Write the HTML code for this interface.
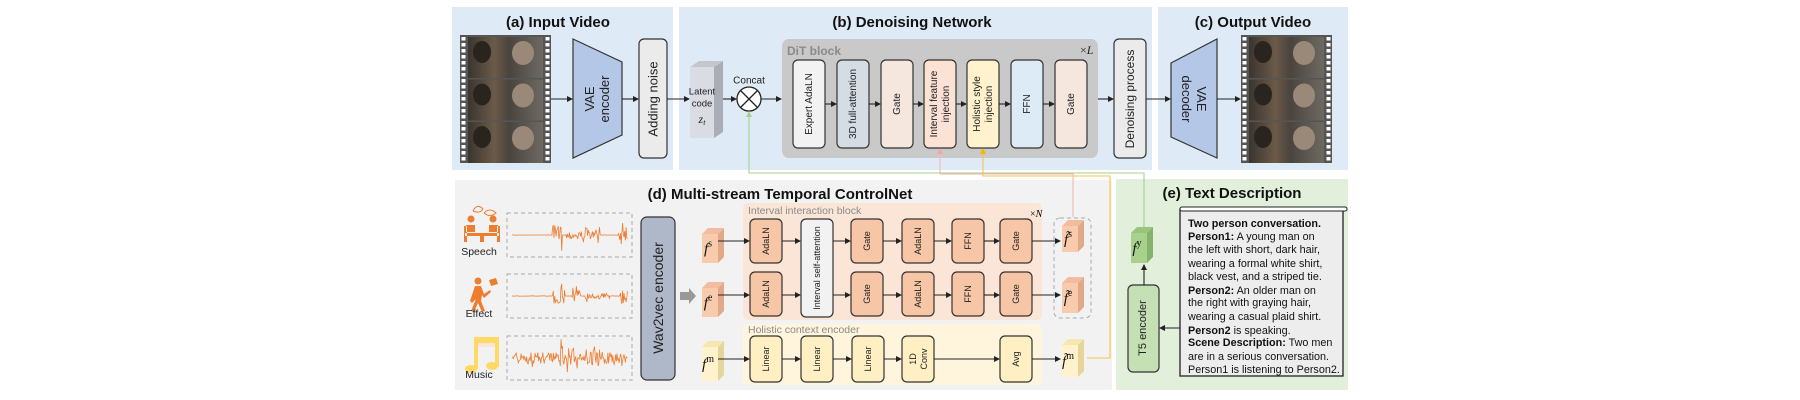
<!DOCTYPE html>
<html><head><meta charset="utf-8"><style>
html,body{margin:0;padding:0;background:#fff;width:1800px;height:400px;overflow:hidden}
svg{display:block;font-family:"Liberation Sans",Arial,sans-serif}
.t{font-weight:bold;font-size:15px;fill:#111;text-anchor:middle}
.bx{stroke:#333;stroke-width:1.2}
.lb{font-size:10px;fill:#222;text-anchor:middle;dominant-baseline:central}
.ln{stroke:#222;stroke-width:1.1;fill:none}
.tx{font-size:10.8px;fill:#111}
</style></head><body>
<svg id="s" width="1800" height="400" viewBox="0 0 1800 400">
<defs>
<marker id="ah" markerWidth="6" markerHeight="6" refX="5" refY="3" orient="auto" markerUnits="userSpaceOnUse"><path d="M0,0 L6,3 L0,6 z" fill="#222"/></marker>
<linearGradient id="fr" x1="0" x2="1" y1="0" y2="0"><stop offset="0" stop-color="#3b352f"/><stop offset="0.35" stop-color="#6b5a48"/><stop offset="0.55" stop-color="#4a443e"/><stop offset="1" stop-color="#6e6a62"/></linearGradient>
</defs>
<rect x="452" y="7" width="221" height="163" fill="#deeaf6"/>
<rect x="679" y="7" width="473" height="163" fill="#deeaf6"/>
<rect x="1158" y="7" width="190" height="163" fill="#deeaf6"/>
<rect x="455" y="180" width="657" height="210" fill="#f2f2f2"/>
<rect x="1116" y="179" width="232" height="211" fill="#e2efda"/>
<text class="t" x="558" y="27">(a) Input Video</text>
<text class="t" x="912" y="27">(b) Denoising Network</text>
<text class="t" x="1253" y="27">(c) Output Video</text>
<text class="t" x="780" y="199">(d) Multi-stream Temporal ControlNet</text>
<text class="t" x="1232" y="198">(e) Text Description</text>
<g id="films"></g>
<polygon points="573,39 622,62 622,135 573,158" fill="#b4c7e7" class="bx"/>
<text class="lb" style="font-size:13px" transform="translate(597,99) rotate(-90)"><tspan x="0" dy="-8">VAE</tspan><tspan x="0" dy="15">encoder</tspan></text>
<rect x="639" y="39" width="28" height="119" rx="5" fill="#ebebeb" class="bx"/>
<text class="lb" style="font-size:13px" transform="translate(653,99) rotate(-90)">Adding noise</text>
<line class="ln" x1="551" y1="99" x2="572" y2="99" marker-end="url(#ah)"/>
<line class="ln" x1="622" y1="99" x2="638" y2="99" marker-end="url(#ah)"/>
<line class="ln" x1="667" y1="99" x2="689" y2="99" marker-end="url(#ah)"/>
<polygon points="714,67 723,61 723,132 714,138" fill="#a9adb5"/>
<polygon points="690,67 699,61 723,61 714,67" fill="#c3c6cc"/>
<rect x="690" y="67" width="24" height="71" fill="#d9dce3"/>
<text class="lb" x="702" y="92" style="font-size:9.5px">Latent</text>
<text class="lb" x="702" y="104" style="font-size:9.5px">code</text>
<text class="lb" x="702" y="119" style="font-size:12px;font-family:'Liberation Serif',serif;font-style:italic">z<tspan style="font-size:8px" dy="3">t</tspan></text>
<line class="ln" x1="723" y1="99" x2="736" y2="99" marker-end="url(#ah)"/>
<circle cx="749" cy="99" r="12" fill="#fff" stroke="#222" stroke-width="1.3"/>
<path d="M741,91 L757,107 M757,91 L741,107" stroke="#222" stroke-width="1.3"/>
<text class="lb" x="749" y="81" style="font-size:10px">Concat</text>
<line class="ln" x1="761" y1="99" x2="781" y2="99" marker-end="url(#ah)"/>
<rect x="782" y="39" width="316" height="119" rx="7" fill="#c9c9c9"/>
<text x="787" y="55" style="font-size:12px;font-weight:bold;fill:#8a8a8a">DiT block</text>
<text x="1080" y="54" style="font-size:12px;font-family:'Liberation Serif',serif;fill:#222">×<tspan font-style="italic">L</tspan></text>
<g id="dit"></g>
<line class="ln" x1="1098" y1="99" x2="1113" y2="99" marker-end="url(#ah)"/>
<rect x="1114" y="39" width="32" height="119" rx="5" fill="#ebebeb" class="bx"/>
<text class="lb" style="font-size:12px" transform="translate(1130,99) rotate(-90)">Denoising process</text>
<line class="ln" x1="1146" y1="99" x2="1170" y2="99" marker-end="url(#ah)"/>
<polygon points="1171,63 1217,39 1217,158 1171,137" fill="#b4c7e7" class="bx"/>
<text class="lb" style="font-size:13px" transform="translate(1194,99) rotate(90)"><tspan x="0" dy="-8">VAE</tspan><tspan x="0" dy="15">decoder</tspan></text>
<line class="ln" x1="1217" y1="99" x2="1240" y2="99" marker-end="url(#ah)"/>
<polyline points="1144,227 1144,173 749,173 749,112" fill="none" stroke="#a9d18e" stroke-width="1.1"/>
<path d="M746,117 L749,111 L752,117z" fill="#a9d18e"/>
<polyline points="1073,217 1073,174 940,174 940,149" fill="none" stroke="#f4b6b6" stroke-width="1.1"/>
<path d="M937,154 L940,148 L943,154z" fill="#f4a6a6"/>
<polyline points="1087,358 1110,358 1110,176 983,176 983,149" fill="none" stroke="#f7c250" stroke-width="1.1"/>
<path d="M980,154 L983,148 L986,154z" fill="#f4b400"/>
<g fill="#ed7d31">
<circle cx="471" cy="219" r="3.5"/><circle cx="493" cy="219" r="3.5"/>
<path d="M466,225 h9 v7 h-9z M489,225 h9 v7 h-9z M465,233 h34 v3 h-34z M480,236 h4 v6 h-4z M464,226 v16 h3 v-16z M497,226 v16 h3 v-16z"/>
<circle cx="478" cy="281" r="3.5"/>
<path d="M475,286 l6,0 l3,8 l6,-4 l1,2 l-7,6 l-2,-3 l-1,6 l4,10 l-3,1 l-4,-9 l-4,9 l-3,-1 l5,-12 l-4,4 l-2,-2z M489,280 l7,-2 l2,6 l-7,2z"/>
</g>
<path d="M473,211 q4,-8 10,-2 q-3,5 -10,2 M484,213 q6,-6 12,0 q-6,5 -12,0" fill="none" stroke="#ed7d31" stroke-width="1"/>
<g fill="#ffd966"><rect x="477" y="340" width="20" height="7" fill="#fbe5d6"/>
<path d="M474,337 h25 v30 h-4 v-24 h-17 v26 h-4z"/><ellipse cx="471" cy="369" rx="6" ry="4"/><ellipse cx="492" cy="366" rx="6" ry="4"/></g>
<text class="lb" x="479" y="252" style="font-size:10.5px">Speech</text>
<text class="lb" x="479" y="314" style="font-size:10.5px">Effect</text>
<text class="lb" x="479" y="375" style="font-size:10.5px">Music</text>
<g fill="none" stroke="#aaa" stroke-dasharray="4,3">
<rect x="507" y="213" width="125" height="44"/><rect x="507" y="274" width="125" height="44"/><rect x="507" y="336" width="125" height="44"/></g>
<g id="waves"></g>
<rect x="641" y="217" width="34" height="163" rx="6" fill="#aeb8c8" class="bx"/>
<text class="lb" style="font-size:14px" transform="translate(658,298) rotate(-90)">Wav2vec encoder</text>
<polygon points="680,292 689,292 689,288 696,296 689,304 689,300 680,300" fill="#999"/>
<rect x="743" y="203" width="299" height="117" rx="5" fill="#fbe5d6"/>
<text x="748" y="214" style="font-size:10.5px;fill:#8a8a8a">Interval interaction block</text>
<text x="1030" y="217" style="font-size:10px;font-family:'Liberation Serif',serif">×<tspan font-style="italic">N</tspan></text>
<rect x="743" y="324" width="299" height="61" rx="5" fill="#fff5dc"/>
<text x="748" y="333" style="font-size:10.5px;fill:#8a8a8a">Holistic context encoder</text>
<g id="d"></g>
<rect x="1054" y="218" width="37" height="100" rx="6" fill="none" stroke="#aaa" stroke-dasharray="4,3"/>
<rect x="1128" y="285" width="31" height="87" rx="5" fill="#c5e0b4" class="bx"/>
<text class="lb" style="font-size:11px" transform="translate(1143,328) rotate(-90)">T5 encoder</text>
<line class="ln" x1="1144" y1="285" x2="1144" y2="265" marker-end="url(#ah)"/>
<line class="ln" x1="1180" y1="328" x2="1160" y2="328" marker-end="url(#ah)"/>
<rect x="1180" y="209" width="163" height="167" fill="#ededed" stroke="#222" stroke-width="1.3"/>
<rect x="1180" y="207" width="167" height="4" rx="2" fill="#fff" stroke="#222"/>
<g class="tx">
<text x="1188" y="227"><tspan font-weight="bold">Two person conversation.</tspan></text>
<text x="1188" y="240"><tspan font-weight="bold">Person1:</tspan> A young man on</text>
<text x="1188" y="253">the left with short, dark hair,</text>
<text x="1188" y="267">wearing a formal white shirt,</text>
<text x="1188" y="280">black vest, and a striped tie.</text>
<text x="1188" y="294"><tspan font-weight="bold">Person2:</tspan> An older man on</text>
<text x="1188" y="306">the right with graying hair,</text>
<text x="1188" y="320">wearing a casual plaid shirt.</text>
<text x="1188" y="334"><tspan font-weight="bold">Person2</tspan> is speaking.</text>
<text x="1188" y="346"><tspan font-weight="bold">Scene Description:</tspan> Two men</text>
<text x="1188" y="360">are in a serious conversation.</text>
<text x="1188" y="373">Person1 is listening to Person2.</text>
</g>
</svg>
<script>
var NS="http://www.w3.org/2000/svg";
function el(p,t,a,txt){var e=document.createElementNS(NS,t);for(var k in a)e.setAttribute(k,a[k]);if(txt!=null)e.textContent=txt;p.appendChild(e);return e;}
var fg=document.getElementById('films');
[460,1241].forEach(function(x){
 el(fg,'rect',{x:x,y:35,width:91,height:128,fill:'#555'});
 for(var i=0;i<3;i++){el(fg,'rect',{x:x+8,y:37+i*42.5,width:75,height:41,fill:'url(#fr)'});
  el(fg,'ellipse',{cx:x+22,cy:52+i*42.5,rx:9,ry:11,fill:'#2a241f'});
  el(fg,'ellipse',{cx:x+63,cy:53+i*42.5,rx:11,ry:12,fill:'#9a8878'});}
 for(var j=0;j<21;j++){el(fg,'rect',{x:x+1.5,y:37+j*6,width:4,height:3.5,fill:'#fff'});el(fg,'rect',{x:x+85.5,y:37+j*6,width:4,height:3.5,fill:'#fff'});}
});
var dg=document.getElementById('dit');
var db=[[793,'#f2f2f2',['Expert AdaLN']],[837,'#d6dce4',['3D full-attention']],[881,'#f5e6de',['Gate']],[924,'#fbe2d5',['Interval feature','injection']],[967,'#fff2cc',['Holistic style','injection']],[1011,'#ddebf7',['FFN']],[1055,'#f5e6de',['Gate']]];
db.forEach(function(b,i){el(dg,'rect',{x:b[0],y:60,width:32,height:88,rx:5,fill:b[1],'class':'bx'});
 var t=el(dg,'text',{'class':'lb',transform:'translate('+(b[0]+16)+',104) rotate(-90)'});
 b[2].forEach(function(l,k){el(t,'tspan',{x:0,dy:b[2].length==1?0:(k==0?-6:12)},l);});
 if(i<db.length-1)el(dg,'line',{'class':'ln',x1:b[0]+32,y1:104,x2:db[i+1][0]-1,y2:104,'marker-end':'url(#ah)'});
});
var d=document.getElementById('d');
function cube(x,y,w,h,dp,f,fs,ft,lab,sup,tilde){
 el(d,'polygon',{points:[x+w,y,x+w+dp,y-dp,x+w+dp,y+h-dp,x+w,y+h].join(','),fill:fs});
 el(d,'polygon',{points:[x,y,x+dp,y-dp,x+w+dp,y-dp,x+w,y].join(','),fill:ft});
 el(d,'rect',{x:x,y:y,width:w,height:h,fill:f});
 var t=el(d,'text',{x:x+w/2-2,y:y+h/2+5,'text-anchor':'middle',style:"font-family:'Liberation Serif',serif;font-style:italic;font-size:15px;fill:#111"},tilde?'f̃':'f');
 el(t,'tspan',{dy:-7,style:'font-style:normal;font-size:10px'},sup);
}
cube(702,234,16,29,6,'#f8cbad','#e0a988','#f3bca0','f','s');
cube(702,288,16,29,6,'#f8cbad','#e0a988','#f3bca0','f','e');
cube(702,347,16,34,6,'#fff2cc','#e6d59a','#f7e6b0','f','m');
cube(1062,226,16,26,6,'#f8cbad','#e0a988','#f3bca0','f','s',1);
cube(1062,283,16,30,6,'#f8cbad','#e0a988','#f3bca0','f','e',1);
cube(1062,345,16,32,6,'#fff2cc','#e6d59a','#f7e6b0','f','m',1);
cube(1131,233,16,30,6,'#a9d18e','#86b36a','#98c47c','f','y');
function box(x,y,h,f,lab){el(d,'rect',{x:x,y:y,width:32,height:h,rx:5,fill:f,'class':'bx'});
 var t=el(d,'text',{'class':'lb',style:'font-size:9px',transform:'translate('+(x+16)+','+(y+h/2)+') rotate(-90)'});
 lab.forEach(function(l,k){el(t,'tspan',{x:0,dy:lab.length==1?0:(k==0?-5:11)},l);});}
var O='#f7c6a6';
[219,272].forEach(function(y){box(750,y,44,O,['AdaLN']);box(851,y,44,O,['Gate']);box(902,y,44,O,['AdaLN']);box(952,y,44,O,['FFN']);box(1000,y,44,O,['Gate']);});
box(801,219,98,'#f2f2f2',['Interval self-attention']);
var Y='#fff0c4';
box(750,336,46,Y,['Linear']);box(801,336,46,Y,['Linear']);box(852,336,46,Y,['Linear']);box(902,336,46,Y,['1D','Conv']);box(1000,336,46,Y,['Avg']);
function ar(x1,y,x2){el(d,'line',{'class':'ln',x1:x1,y1:y,x2:x2,y2:y,'marker-end':'url(#ah)'});}
[241,295].forEach(function(y){ar(718,y,749);ar(782,y,800);ar(833,y,850);ar(883,y,901);ar(934,y,951);ar(984,y,999);ar(1032,y,1060);});
var y=359;ar(718,y,749);ar(782,y,800);ar(833,y,851);ar(884,y,901);ar(934,y,999);ar(1032,y,1060);
var w=document.getElementById('waves');var seed=7;function r(){seed=(seed*16807)%2147483647;return seed/2147483647;}
function wave(y0,segs,dense){var pts=[];for(var x=512;x<=628;x+=0.7){var a=0.15;segs.forEach(function(s){if(x>=s[0]&&x<=s[1])a=s[2];});if(dense)a=Math.max(a,3+4*r());var v=(r()-0.5)*2*a*(r()<0.15?2:1);pts.push(x.toFixed(1)+','+(y0+v).toFixed(1));}
 el(w,'polyline',{points:pts.join(' '),fill:'none',stroke:'#ed7d31','stroke-width':0.8});}
wave(235,[[552,562,10],[566,600,4],[618,628,6]],0);
wave(296,[[552,565,10],[572,580,7],[585,610,3],[620,628,7]],0);
wave(358,[[560,575,10],[585,600,9],[605,615,6]],1);
</script>
</body></html>
